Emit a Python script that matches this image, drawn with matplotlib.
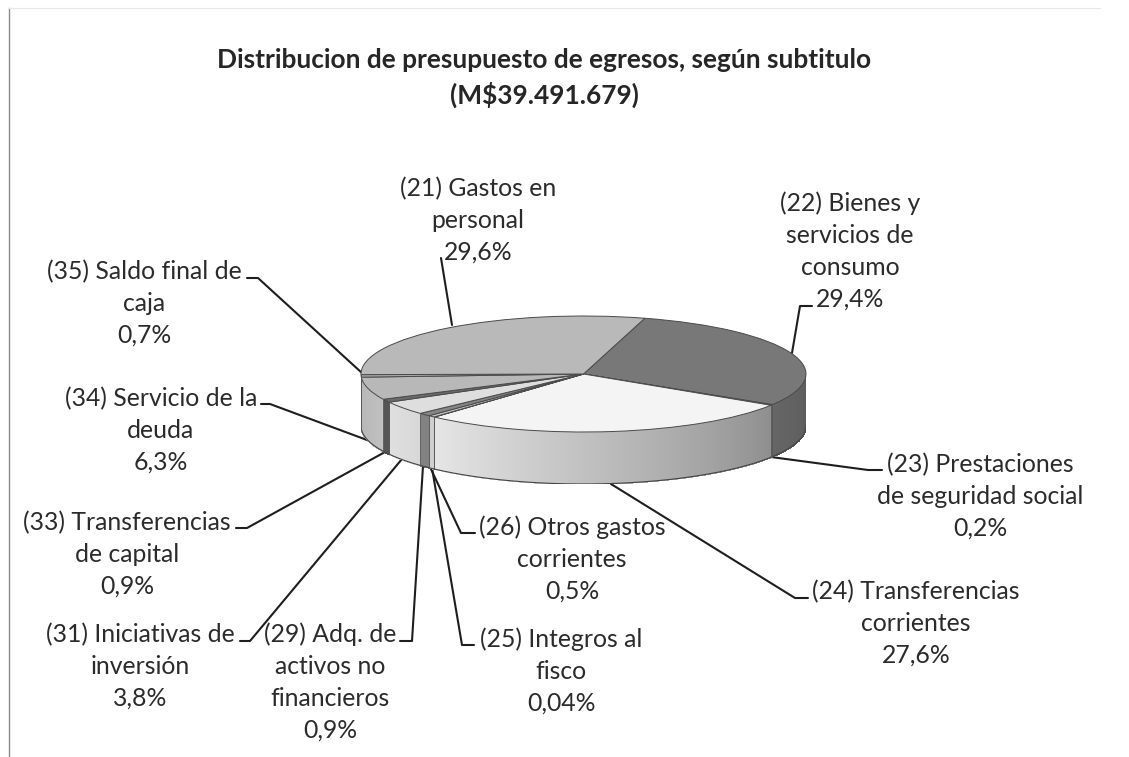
import numpy as np
import matplotlib
matplotlib.use("Agg")
import matplotlib.pyplot as plt
from matplotlib.collections import PolyCollection

W, H = 1129, 757
TITLE = "Distribucion de presupuesto de egresos, según subtitulo\n(M$39.491.679)"
names = ["(22) Bienes y\nservicios de\nconsumo", "(23) Prestaciones\nde seguridad social",
         "(24) Transferencias\ncorrientes", "(25) Integros al\nfisco",
         "(26) Otros gastos\ncorrientes", "(29) Adq. de\nactivos no\nfinancieros",
         "(31) Iniciativas de\ninversión", "(33) Transferencias\nde capital",
         "(34) Servicio de la\ndeuda", "(35) Saldo final de\ncaja", "(21) Gastos en\npersonal"]
values = [29.4, 0.2, 27.6, 0.04, 0.5, 0.9, 3.8, 0.9, 6.3, 0.7, 29.6]
value_labels = ["29,4%", "0,2%", "27,6%", "0,04%", "0,5%", "0,9%", "3,8%", "0,9%", "6,3%", "0,7%", "29,6%"]

# styling, separate from the data
top_colors = ["#787878", "#555555", "#f4f4f4", "#999999", "#c4c4c4", "#858585",
              "#dedede", "#6a6a6a", "#b8b8b8", "#a8a8a8", "#b9b9b9"]
wall_left = ["#666666", "#555555", "#e6e6e6", "#999999", "#cfcfcf", "#828282",
             "#e0e0e0", "#555555", "#b4b4b4", "#a8a8a8", "#b4b4b4"]
wall_right = ["#5c5c5c", "#555555", "#8f8f8f", "#999999", "#cfcfcf", "#828282",
              "#d8d8d8", "#555555", "#c0c0c0", "#a8a8a8", "#b4b4b4"]
label_pos = [(850, 251), (980, 496), (916, 623), (561, 671), (572, 559), (330, 682),
             (140, 666), (127, 554), (161, 430), (144, 303), (478, 220)]
leaders = [[(812, 306), (800, 306), (792, 353)],
           [(882, 470), (868, 470), (771, 457)],
           [(808, 598), (795, 598), (611, 484)],
           [(474, 645), (462, 645), (432, 468)],
           [(475, 533), (461, 533), (430, 467)],
           [(400, 641), (412, 641), (423, 466)],
           [(240, 641), (250, 641), (402, 459)],
           [(236, 528), (247, 528), (385, 452)],
           [(261, 404), (270, 404), (367, 440)],
           [(247, 278), (258, 278), (362, 373)],
           [(452, 325), (441, 258)]]
CX, CY, RX, RY, DEPTH = 583.5, 374, 222.5, 58, 52
FONT = ["Lato", "DejaVu Sans"]
INK = "#2b2b2b"

fig = plt.figure(figsize=(W / 100, H / 100), dpi=100, facecolor="white")
over = fig.add_axes([0, 0, 1, 1], zorder=1)
over.set_xlim(0, W); over.set_ylim(H, 0); over.axis("off")

# frame of the scanned chart
over.plot([9, 9], [8, H], color="#8a8a8a", lw=1.0)
over.plot([9, 1100], [8, 8], color="#e8e8e8", lw=0.8)

# leader lines below the pie
for pts in leaders:
    xs, ys = zip(*pts)
    over.plot(xs, ys, color="#1e1e1e", lw=1.5, solid_capstyle="round", zorder=1)

# pie axes: unit circle squashed into the ellipse, extended to hold the wall
ax = fig.add_axes([(CX - RX) / W, 1 - (CY + RY + DEPTH) / H, 2 * RX / W, (2 * RY + DEPTH) / H], zorder=2)
ax.patch.set_alpha(0)
wedges, _ = ax.pie(values, colors=top_colors, startangle=74, counterclock=False, radius=1,
                   wedgeprops=dict(edgecolor="#4a4a4a", linewidth=0.7))
ax.set_aspect("auto")
ax.set_xlim(-1, 1)
dy = 2 * DEPTH / (2 * RY)
ax.set_ylim(-1 - dy, 1)
ax.axis("off")

def blend(a, b, t):
    ca, cb = np.array(matplotlib.colors.to_rgb(a)), np.array(matplotlib.colors.to_rgb(b))
    return ca + (cb - ca) * t

for w, cl, cr in zip(wedges, wall_left, wall_right):
    a0, a1 = (w.theta1 % 360), (w.theta2 % 360)
    if a1 <= a0:
        a1 += 360
    # visible wall is the lower half, 180 to 360 degrees
    lo, hi = max(a0, 180), min(a1, 360)
    if hi <= lo:
        continue
    edges = np.radians(np.linspace(lo, hi, max(int((hi - lo) * 2), 2) + 1))
    quads, cols = [], []
    for i in range(len(edges) - 1):
        e0, e1 = edges[i], edges[i + 1]
        quads.append([(np.cos(e0), np.sin(e0)), (np.cos(e1), np.sin(e1)),
                      (np.cos(e1), np.sin(e1) - dy), (np.cos(e0), np.sin(e0) - dy)])
        cols.append(blend(cl, cr, i / max(len(edges) - 2, 1)))
    ax.add_collection(PolyCollection(quads, facecolors=cols, edgecolors=cols, linewidths=0.6,
                                     antialiaseds=False, zorder=0.5))
    rim = np.radians(np.linspace(lo, hi, 200))
    ax.plot(np.cos(rim), np.sin(rim) - dy, color="#444444", lw=0.8, zorder=3)
    for e in (lo, hi):
        r = np.radians(e)
        ax.plot([np.cos(r)] * 2, [np.sin(r), np.sin(r) - dy], color="#5a5a5a", lw=0.5, zorder=3)

# labels
for name, val, (x, y) in zip(names, value_labels, label_pos):
    over.text(x, y, f"{name}\n{val}", ha="center", va="center", family=FONT, fontsize=17.8,
              color=INK, linespacing=1.45, zorder=5)
over.text(544, 78, TITLE, ha="center", va="center", family=FONT, fontsize=18.9, fontweight="bold",
          color="#262626", linespacing=1.42, zorder=5)

fig.savefig("out.png", dpi=100, facecolor="white")
